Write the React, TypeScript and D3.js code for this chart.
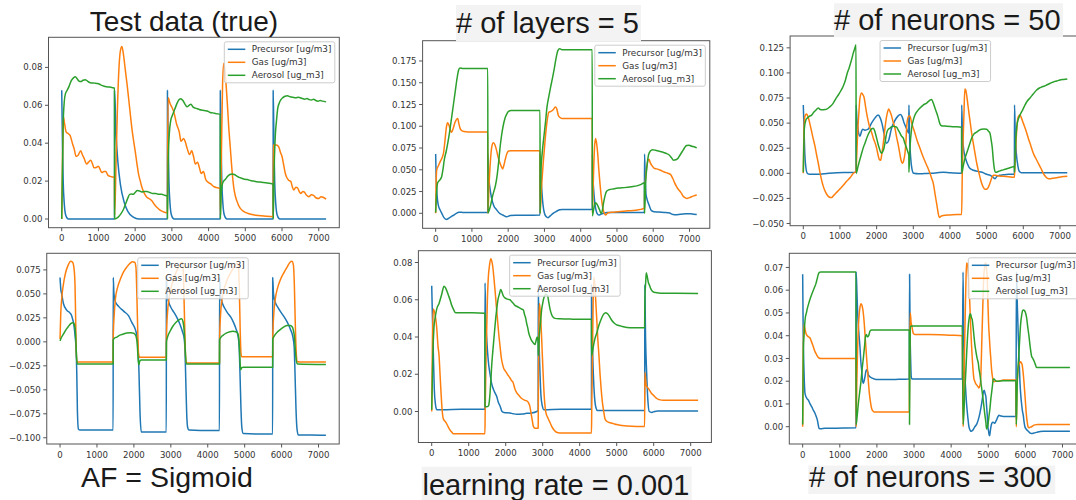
import React from 'react';
import * as d3 from 'd3';

type Pt = [number, number];

// ---- shared labels / ticks ----
const seriesNames = ['Precursor [ug/m3]', 'Gas [ug/m3]', 'Aerosol [ug_m3]'];
const seriesColors = ['#1f77b4', '#ff7f0e', '#2ca02c'];
const timeTicks = [0, 1000, 2000, 3000, 4000, 5000, 6000, 7000];
const timeExtent = [0, 7200];

// ---- Test data (true) ----
const testPrecursor: Pt[] = [[0,0.068],[20,0.04],[40,0.02],[70,0.008],[110,0.002],[180,0],[1438,0],[1440,0.068],[1480,0.045],[1530,0.03],[1600,0.018],[1700,0.009],[1800,0.004],[1950,0.001],[2100,0],[2878,0],[2880,0.068],[2900,0.04],[2920,0.02],[2950,0.008],[2990,0.002],[3060,0],[4318,0],[4320,0.068],[4340,0.04],[4360,0.02],[4390,0.008],[4430,0.002],[4500,0],[5758,0],[5760,0.068],[5780,0.04],[5800,0.02],[5830,0.008],[5870,0.002],[5940,0],[7200,0]];
const testGas: Pt[] = [[0,0],[20,0.03],[45,0.054],[80,0.05],[120,0.046],[180,0.045],[230,0.044],[290,0.04],[340,0.037],[390,0.033],[440,0.0335],[520,0.036],[560,0.034],[610,0.032],[680,0.029],[730,0.03],[790,0.031],[840,0.029],[880,0.027],[940,0.0272],[1000,0.0278],[1050,0.026],[1090,0.0245],[1150,0.025],[1200,0.025],[1260,0.023],[1320,0.0225],[1380,0.0222],[1436,0.022],[1442,0.002],[1480,0.03],[1520,0.06],[1560,0.08],[1600,0.089],[1640,0.091],[1680,0.087],[1730,0.079],[1780,0.071],[1820,0.064],[1870,0.055],[1910,0.048],[1960,0.041],[2000,0.036],[2050,0.029],[2090,0.024],[2140,0.02],[2180,0.017],[2250,0.0135],[2320,0.0115],[2400,0.0105],[2460,0.0095],[2530,0.0075],[2590,0.0062],[2660,0.005],[2730,0.0042],[2800,0.0036],[2878,0.0033],[2882,0.03],[2900,0.064],[2950,0.061],[3000,0.059],[3060,0.056],[3130,0.05],[3200,0.046],[3250,0.041],[3320,0.0425],[3360,0.041],[3420,0.037],[3480,0.034],[3540,0.036],[3590,0.033],[3640,0.029],[3700,0.03],[3750,0.027],[3800,0.024],[3860,0.025],[3920,0.021],[3980,0.0195],[4060,0.0185],[4150,0.017],[4250,0.0165],[4318,0.016],[4322,0.002],[4350,0.035],[4380,0.07],[4410,0.082],[4440,0.08],[4480,0.07],[4520,0.058],[4550,0.048],[4590,0.038],[4620,0.03],[4660,0.021],[4690,0.016],[4730,0.012],[4780,0.009],[4850,0.006],[4920,0.0045],[5000,0.0035],[5100,0.0028],[5280,0.002],[5500,0.0016],[5758,0.0012],[5762,0.039],[5850,0.039],[5910,0.038],[5960,0.035],[6000,0.033],[6050,0.028],[6090,0.024],[6140,0.0215],[6180,0.0205],[6240,0.0198],[6280,0.017],[6320,0.0153],[6380,0.0168],[6420,0.0165],[6470,0.0145],[6510,0.0135],[6570,0.0145],[6610,0.0142],[6670,0.0125],[6730,0.0118],[6800,0.0128],[6860,0.0125],[6920,0.0112],[7000,0.0108],[7060,0.0118],[7120,0.0115],[7200,0.0105]];
const testAerosol: Pt[] = [[0,0],[15,0.02],[40,0.05],[70,0.062],[100,0.066],[150,0.068],[200,0.07],[260,0.073],[320,0.0745],[370,0.075],[420,0.074],[470,0.0728],[520,0.0725],[580,0.0732],[640,0.0735],[700,0.0728],[760,0.072],[820,0.0718],[900,0.0717],[980,0.0715],[1060,0.0708],[1140,0.0702],[1220,0.0698],[1300,0.0696],[1380,0.0693],[1438,0.069],[1441,0],[1500,0.0005],[1560,0.0015],[1620,0.003],[1680,0.005],[1740,0.008],[1800,0.011],[1850,0.013],[1900,0.0132],[1950,0.013],[2000,0.014],[2060,0.015],[2120,0.0148],[2180,0.0143],[2240,0.0145],[2320,0.0145],[2400,0.014],[2480,0.0135],[2560,0.0135],[2640,0.013],[2720,0.013],[2800,0.0125],[2878,0.012],[2881,0],[2900,0.03],[2930,0.045],[2970,0.052],[3020,0.055],[3080,0.058],[3140,0.061],[3200,0.063],[3240,0.0635],[3300,0.0625],[3360,0.0605],[3410,0.0592],[3470,0.06],[3520,0.0605],[3580,0.059],[3640,0.0585],[3720,0.058],[3800,0.0575],[3880,0.0572],[3960,0.057],[4040,0.0562],[4120,0.056],[4200,0.0556],[4318,0.0553],[4321,0],[4340,0.012],[4370,0.018],[4410,0.02],[4460,0.021],[4520,0.0225],[4580,0.0235],[4640,0.0238],[4700,0.0235],[4760,0.0228],[4830,0.022],[4900,0.0215],[4980,0.021],[5060,0.0208],[5140,0.0203],[5220,0.02],[5300,0.0197],[5400,0.0195],[5500,0.0192],[5600,0.019],[5700,0.0187],[5758,0.0185],[5761,0],[5790,0.03],[5820,0.045],[5850,0.052],[5880,0.058],[5920,0.061],[5970,0.063],[6020,0.064],[6080,0.0648],[6150,0.065],[6220,0.0645],[6300,0.0642],[6380,0.064],[6440,0.0642],[6500,0.064],[6560,0.0635],[6620,0.0632],[6680,0.0636],[6740,0.063],[6800,0.0628],[6860,0.0632],[6920,0.0625],[6980,0.0622],[7040,0.0625],[7100,0.0622],[7200,0.0618]];
const testYTicks = [0, 0.02, 0.04, 0.06, 0.08];

// ---- # of layers = 5 ----
const layersPrecursor: Pt[] = [[0,0.068],[15,0.04],[40,0.02],[70,0.01],[120,0.004],[170,0],[230,-0.005],[290,-0.007],[350,-0.006],[420,-0.004],[500,-0.002],[570,0],[640,0.0012],[750,0.001],[900,0.0008],[1100,0.0008],[1300,0.0008],[1438,0.0008],[1440,0.068],[1460,0.045],[1500,0.028],[1540,0.018],[1600,0.009],[1680,0.004],[1760,0],[1850,-0.002],[1960,-0.004],[2060,-0.0025],[2200,-0.0022],[2500,-0.0022],[2878,-0.002],[2880,0.068],[2900,0.045],[2930,0.025],[2960,0.01],[3000,0],[3050,-0.004],[3100,-0.005],[3160,-0.003],[3240,0],[3320,0.002],[3420,0.004],[3500,0.0045],[3800,0.0045],[4318,0.0045],[4320,0.068],[4340,0.04],[4370,0.02],[4410,0.006],[4450,0],[4500,-0.002],[4560,-0.001],[4640,0],[4720,0.001],[5000,0.001],[5400,0.001],[5758,0.001],[5760,0.068],[5780,0.04],[5800,0.022],[5830,0.016],[5880,0.01],[5950,0.003],[6020,0.0018],[6150,0.0015],[6300,0.001],[6450,0.0003],[6550,-0.0015],[6620,-0.0018],[6750,-0.001],[6900,-0.0005],[7020,-0.0004],[7120,-0.001],[7200,-0.0015]];
const layersGas: Pt[] = [[0,0],[10,0.03],[30,0.05],[80,0.055],[130,0.06],[180,0.064],[220,0.07],[260,0.085],[300,0.1],[330,0.104],[370,0.101],[410,0.095],[440,0.093],[480,0.097],[530,0.104],[580,0.108],[610,0.109],[640,0.103],[680,0.097],[720,0.095],[780,0.094],[900,0.0935],[1100,0.0935],[1300,0.0935],[1438,0.0935],[1441,0],[1470,0.03],[1510,0.06],[1550,0.077],[1590,0.081],[1630,0.079],[1670,0.074],[1720,0.065],[1770,0.058],[1820,0.053],[1850,0.051],[1880,0.055],[1920,0.062],[1960,0.068],[2010,0.0715],[2080,0.072],[2300,0.072],[2600,0.072],[2878,0.072],[2881,0],[2920,0.03],[2970,0.06],[3020,0.085],[3070,0.105],[3120,0.116],[3180,0.117],[3240,0.119],[3300,0.122],[3340,0.12],[3380,0.113],[3430,0.11],[3480,0.109],[3700,0.109],[4000,0.109],[4318,0.109],[4321,0],[4350,0.04],[4380,0.075],[4410,0.086],[4440,0.08],[4470,0.068],[4500,0.05],[4530,0.035],[4570,0.018],[4610,0.006],[4650,0],[4690,-0.002],[4730,0],[4800,0.001],[4900,0.0012],[5100,0.002],[5300,0.0028],[5500,0.0035],[5650,0.0045],[5758,0.006],[5761,0.02],[5800,0.045],[5840,0.058],[5880,0.062],[5920,0.058],[5960,0.055],[6020,0.052],[6100,0.051],[6200,0.0495],[6300,0.0475],[6400,0.046],[6480,0.0445],[6540,0.04],[6590,0.035],[6640,0.031],[6700,0.027],[6760,0.024],[6820,0.02],[6880,0.018],[6930,0.017],[7000,0.018],[7080,0.0195],[7150,0.0205],[7200,0.021]];
const layersAerosol: Pt[] = [[0,0.001],[20,0.02],[55,0.035],[110,0.038],[165,0.042],[200,0.05],[240,0.062],[290,0.071],[340,0.082],[390,0.095],[440,0.11],[490,0.125],[540,0.14],[590,0.155],[630,0.164],[670,0.167],[750,0.1665],[900,0.1665],[1100,0.1665],[1300,0.1665],[1438,0.1665],[1441,0],[1480,0.004],[1520,0.01],[1560,0.018],[1610,0.026],[1650,0.032],[1700,0.045],[1740,0.06],[1780,0.077],[1820,0.09],[1860,0.1],[1910,0.109],[1960,0.114],[2010,0.117],[2080,0.118],[2300,0.118],[2600,0.118],[2878,0.118],[2881,0],[2900,0.045],[2940,0.07],[2990,0.09],[3030,0.105],[3070,0.122],[3120,0.134],[3170,0.145],[3220,0.155],[3270,0.166],[3320,0.178],[3370,0.187],[3420,0.189],[3480,0.188],[3700,0.188],[4000,0.188],[4318,0.188],[4321,-0.003],[4360,0.005],[4400,0.012],[4440,0.011],[4480,0.008],[4520,0.004],[4560,0],[4590,0.002],[4630,0.012],[4670,0.02],[4710,0.025],[4780,0.027],[4900,0.028],[5050,0.029],[5200,0.0295],[5400,0.0305],[5550,0.0315],[5650,0.033],[5758,0.035],[5761,0],[5790,0.035],[5830,0.055],[5870,0.067],[5920,0.0715],[5980,0.073],[6060,0.0725],[6150,0.0715],[6250,0.0705],[6350,0.069],[6440,0.067],[6500,0.064],[6560,0.061],[6620,0.0615],[6680,0.063],[6740,0.067],[6800,0.071],[6860,0.075],[6920,0.078],[6990,0.0783],[7060,0.077],[7130,0.0765],[7200,0.0752]];
const layersYTicks = [0, 0.025, 0.05, 0.075, 0.1, 0.125, 0.15, 0.175];

// ---- # of neurons = 50 ----
const n50Precursor: Pt[] = [[0,0.068],[15,0.05],[40,0.02],[70,0.006],[110,0],[180,-0.001],[360,-0.001],[700,0],[1100,0.0008],[1438,0.001],[1440,0.068],[1460,0.055],[1500,0.042],[1545,0.037],[1590,0.042],[1620,0.044],[1680,0.043],[1770,0.044],[1860,0.05],[1950,0.055],[2040,0.058],[2100,0.055],[2150,0.049],[2200,0.04],[2270,0.03],[2330,0.033],[2400,0.044],[2490,0.052],[2580,0.057],[2650,0.0585],[2700,0.056],[2750,0.05],[2810,0.045],[2878,0.04],[2880,0.068],[2900,0.035],[2930,0.015],[2960,0.005],[3010,0],[3150,-0.0005],[3300,-0.0003],[3500,0],[3700,0.0008],[3820,0.001],[4000,0.0005],[4318,0],[4320,0.068],[4340,0.04],[4370,0.025],[4410,0.017],[4470,0.01],[4540,0.005],[4640,0.003],[4750,0.002],[4880,0.001],[5000,-0.001],[5100,-0.002],[5180,-0.004],[5230,-0.0055],[5280,-0.003],[5350,-0.002],[5450,-0.0015],[5600,-0.001],[5758,-0.001],[5760,0.068],[5780,0.04],[5810,0.02],[5850,0.008],[5890,0.002],[5950,0.0005],[6100,0.0005],[6500,0.0005],[7000,0.0005],[7200,0.0005]];
const n50Gas: Pt[] = [[0,0],[15,0.04],[45,0.057],[91,0.059],[140,0.055],[200,0.046],[260,0.036],[318,0.027],[370,0.017],[409,0.01],[470,-0.002],[545,-0.013],[610,-0.019],[682,-0.023],[740,-0.024],[773,-0.024],[830,-0.022],[909,-0.019],[1000,-0.0155],[1091,-0.012],[1182,-0.008],[1273,-0.0045],[1364,0],[1436,0.002],[1460,0.02],[1482,0.04],[1515,0.06],[1545,0.075],[1591,0.08],[1630,0.078],[1655,0.076],[1700,0.066],[1727,0.06],[1770,0.052],[1818,0.045],[1870,0.04],[1909,0.035],[1960,0.03],[2000,0.025],[2040,0.018],[2070,0.014],[2109,0.013],[2140,0.019],[2164,0.025],[2200,0.036],[2227,0.045],[2260,0.054],[2291,0.06],[2330,0.064],[2370,0.061],[2409,0.057],[2450,0.051],[2500,0.045],[2545,0.036],[2591,0.028],[2630,0.02],[2660,0.014],[2709,0.01],[2740,0.013],[2773,0.02],[2800,0.032],[2818,0.045],[2850,0.055],[2878,0.057],[2909,0.057],[2955,0.05],[3000,0.045],[3045,0.04],[3110,0.032],[3182,0.025],[3250,0.018],[3318,0.012],[3390,0.006],[3455,0],[3500,-0.005],[3545,-0.01],[3590,-0.02],[3636,-0.03],[3680,-0.04],[3709,-0.044],[3750,-0.043],[3818,-0.042],[4000,-0.0415],[4200,-0.041],[4318,-0.041],[4336,0],[4360,0.035],[4382,0.06],[4405,0.084],[4430,0.083],[4455,0.078],[4490,0.068],[4518,0.06],[4555,0.05],[4591,0.04],[4640,0.029],[4682,0.02],[4730,0.01],[4773,0.003],[4820,-0.004],[4864,-0.01],[4910,-0.014],[4955,-0.016],[5000,-0.0158],[5045,-0.014],[5090,-0.01],[5136,-0.005],[5182,-0.002],[5230,-0.002],[5300,-0.0025],[5450,-0.003],[5600,-0.0035],[5758,-0.004],[5775,0.01],[5800,0.03],[5830,0.048],[5860,0.056],[5909,0.058],[5950,0.055],[6000,0.05],[6070,0.043],[6136,0.035],[6200,0.028],[6273,0.02],[6340,0.015],[6409,0.01],[6480,0.005],[6545,0],[6600,-0.003],[6660,-0.005],[6727,-0.0055],[6800,-0.005],[6909,-0.0045],[7050,-0.0035],[7200,-0.003]];
const n50Aerosol: Pt[] = [[0,0.001],[10,0.02],[30,0.045],[70,0.053],[109,0.055],[170,0.057],[227,0.058],[290,0.061],[345,0.063],[409,0.065],[460,0.0635],[520,0.0632],[590,0.0635],[640,0.064],[682,0.065],[750,0.067],[818,0.07],[880,0.074],[955,0.078],[1020,0.082],[1091,0.087],[1150,0.093],[1200,0.1],[1250,0.105],[1291,0.11],[1330,0.115],[1364,0.12],[1400,0.124],[1438,0.128],[1441,0],[1500,0.008],[1545,0.014],[1591,0.02],[1640,0.026],[1682,0.03],[1750,0.037],[1818,0.042],[1870,0.0445],[1909,0.045],[1950,0.042],[2000,0.035],[2040,0.029],[2073,0.025],[2110,0.021],[2136,0.02],[2170,0.022],[2200,0.025],[2240,0.033],[2273,0.04],[2320,0.044],[2364,0.045],[2410,0.0465],[2455,0.047],[2500,0.0465],[2545,0.046],[2590,0.043],[2636,0.04],[2680,0.037],[2727,0.035],[2770,0.03],[2818,0.025],[2864,0.02],[2878,0.018],[2881,0.001],[2909,0.025],[2955,0.045],[3000,0.053],[3045,0.058],[3110,0.062],[3182,0.065],[3270,0.068],[3364,0.07],[3440,0.0725],[3500,0.0735],[3545,0.07],[3591,0.065],[3640,0.06],[3682,0.055],[3720,0.05],[3745,0.048],[3800,0.0472],[3909,0.047],[4100,0.0465],[4318,0.046],[4321,0],[4360,0.007],[4409,0.015],[4455,0.02],[4500,0.025],[4545,0.03],[4591,0.035],[4650,0.039],[4727,0.041],[4800,0.043],[4864,0.044],[4930,0.0442],[5000,0.044],[5050,0.042],[5091,0.04],[5120,0.034],[5155,0.025],[5180,0.014],[5209,0.005],[5245,0.001],[5330,0.002],[5409,0.003],[5500,0.004],[5591,0.005],[5680,0.006],[5758,0.007],[5761,0.001],[5775,0.015],[5791,0.03],[5836,0.05],[5909,0.058],[5980,0.063],[6045,0.068],[6110,0.072],[6182,0.075],[6270,0.079],[6364,0.083],[6440,0.085],[6500,0.086],[6580,0.087],[6636,0.088],[6720,0.0895],[6818,0.091],[6910,0.092],[7000,0.093],[7100,0.0935],[7200,0.094]];
const n50YTicks = [-0.05, -0.025, 0, 0.025, 0.05, 0.075, 0.1, 0.125];

// ---- AF = Sigmoid ----
const sigmoidPrecursor: Pt[] = [[0,0.067],[20,0.055],[45,0.05],[91,0.04],[181,0.033],[272,0.03],[317,0.027],[380,0.016],[408,0.006],[435,-0.008],[453,-0.032],[471,-0.073],[498,-0.091],[540,-0.092],[800,-0.092],[1100,-0.092],[1438,-0.092],[1440,0.067],[1460,0.05],[1495,0.042],[1585,0.037],[1721,0.032],[1857,0.027],[1947,0.02],[2038,0.013],[2083,0.006],[2111,-0.005],[2138,-0.032],[2165,-0.073],[2201,-0.094],[2500,-0.094],[2878,-0.094],[2880,0.067],[2900,0.05],[2940,0.042],[3000,0.036],[3080,0.031],[3170,0.025],[3250,0.018],[3320,0.01],[3360,0.004],[3385,-0.01],[3405,-0.04],[3430,-0.075],[3455,-0.089],[3490,-0.092],[3800,-0.0925],[4318,-0.0925],[4320,0.067],[4340,0.05],[4390,0.041],[4460,0.035],[4540,0.03],[4620,0.026],[4700,0.02],[4770,0.013],[4820,0.006],[4850,-0.005],[4875,-0.035],[4900,-0.07],[4925,-0.09],[4960,-0.0955],[5300,-0.096],[5758,-0.096],[5760,0.067],[5780,0.05],[5830,0.041],[5900,0.036],[5980,0.031],[6070,0.026],[6160,0.02],[6240,0.013],[6300,0.006],[6340,-0.005],[6365,-0.035],[6390,-0.07],[6415,-0.09],[6450,-0.097],[6800,-0.097],[7200,-0.0975]];
const sigmoidGas: Pt[] = [[0,0.003],[20,0.03],[45,0.045],[91,0.06],[150,0.072],[220,0.08],[290,0.084],[340,0.083],[380,0.076],[405,0.06],[425,0.02],[440,-0.01],[460,-0.021],[520,-0.021],[900,-0.021],[1438,-0.021],[1441,0.005],[1470,0.03],[1500,0.045],[1560,0.057],[1640,0.066],[1720,0.073],[1810,0.078],[1900,0.082],[1960,0.0835],[2020,0.083],[2055,0.078],[2080,0.05],[2105,0.01],[2125,-0.012],[2150,-0.016],[2300,-0.016],[2878,-0.016],[2881,0.005],[2910,0.03],[2950,0.045],[3010,0.057],[3080,0.066],[3160,0.074],[3240,0.08],[3300,0.083],[3330,0.08],[3355,0.05],[3380,0.01],[3400,-0.015],[3420,-0.022],[3600,-0.022],[4318,-0.022],[4321,0.003],[4350,0.03],[4390,0.045],[4450,0.056],[4530,0.065],[4620,0.072],[4710,0.078],[4790,0.082],[4830,0.08],[4855,0.055],[4880,0.01],[4900,-0.012],[4920,-0.0155],[5200,-0.0155],[5758,-0.0155],[5761,0.005],[5790,0.03],[5830,0.045],[5890,0.056],[5970,0.065],[6060,0.072],[6150,0.078],[6230,0.083],[6280,0.084],[6320,0.08],[6345,0.06],[6370,0.02],[6395,-0.01],[6420,-0.0205],[6500,-0.021],[7200,-0.021]];
const sigmoidAerosol: Pt[] = [[0,0.001],[30,0.004],[91,0.008],[150,0.012],[226,0.016],[290,0.019],[340,0.02],[370,0.0195],[400,0.016],[420,0.008],[435,-0.005],[450,-0.018],[470,-0.023],[520,-0.023],[1000,-0.023],[1438,-0.023],[1441,0.002],[1480,0.004],[1540,0.005],[1620,0.007],[1700,0.008],[1810,0.0093],[1900,0.0095],[1970,0.0093],[2030,0.008],[2070,0.004],[2095,-0.005],[2115,-0.018],[2135,-0.024],[2160,-0.02],[2200,-0.019],[2500,-0.019],[2878,-0.019],[2881,0],[2920,0.006],[2980,0.011],[3050,0.016],[3130,0.02],[3220,0.023],[3290,0.024],[3330,0.021],[3360,0.012],[3380,0],[3400,-0.015],[3420,-0.023],[3600,-0.023],[4318,-0.023],[4321,0.002],[4360,0.005],[4420,0.007],[4500,0.009],[4600,0.0105],[4680,0.011],[4760,0.0105],[4810,0.009],[4840,0.004],[4860,-0.008],[4880,-0.024],[4895,-0.029],[4920,-0.027],[4960,-0.0265],[5300,-0.0265],[5758,-0.0265],[5761,0.003],[5800,0.006],[5880,0.01],[5970,0.013],[6060,0.0155],[6150,0.017],[6230,0.017],[6280,0.016],[6320,0.012],[6350,0.004],[6375,-0.01],[6400,-0.02],[6430,-0.023],[7200,-0.0235]];
const sigmoidYTicks = [-0.1, -0.075, -0.05, -0.025, 0, 0.025, 0.05, 0.075];

// ---- learning rate = 0.001 ----
const lrPrecursor: Pt[] = [[0,0.0675],[20,0.05],[45,0.03],[70,0.012],[100,0.004],[135,0.001],[300,0.001],[800,0.0012],[1438,0.0012],[1440,0.069],[1460,0.05],[1490,0.038],[1530,0.027],[1577,0.02],[1620,0.015],[1667,0.012],[1710,0.01],[1757,0.008],[1800,0.005],[1847,0.003],[1900,0],[1950,-0.0005],[2117,-0.0008],[2200,-0.0012],[2297,-0.0015],[2450,-0.0013],[2568,-0.001],[2700,-0.0008],[2838,0],[2878,0.0005],[2880,0.068],[2900,0.04],[2928,0.02],[2955,0.008],[2990,0.003],[3030,0.001],[3500,0.0012],[4000,0.0012],[4318,0.0012],[4320,0.068],[4340,0.04],[4369,0.02],[4400,0.008],[4440,0.002],[4480,0.0005],[5000,0.0005],[5758,0.0005],[5760,0.068],[5780,0.04],[5811,0.02],[5840,0.007],[5880,0],[5946,-0.0005],[6020,0],[6100,0.0003],[6500,0.0003],[7200,0.0003]];
const lrGas: Pt[] = [[0,0],[20,0.04],[45,0.055],[90,0.052],[120,0.048],[135,0.045],[170,0.035],[198,0.03],[225,0.02],[252,0.01],[285,0],[315,-0.004],[350,-0.005],[387,-0.006],[440,-0.008],[495,-0.01],[540,-0.011],[586,-0.012],[700,-0.012],[1000,-0.012],[1300,-0.012],[1438,-0.012],[1445,0],[1470,0.03],[1505,0.06],[1530,0.072],[1559,0.078],[1595,0.082],[1620,0.081],[1649,0.078],[1680,0.072],[1712,0.065],[1745,0.057],[1775,0.05],[1810,0.042],[1847,0.035],[1880,0.029],[1919,0.025],[1950,0.023],[1982,0.022],[2045,0.02],[2117,0.018],[2160,0.0165],[2189,0.016],[2252,0.012],[2300,0.01],[2342,0.009],[2432,0.007],[2523,0.006],[2586,0.0055],[2620,0.0045],[2650,0.003],[2694,-0.002],[2720,-0.005],[2748,-0.008],[2790,-0.009],[2860,-0.009],[2878,-0.0088],[2885,0.02],[2900,0.05],[2915,0.058],[2946,0.05],[2991,0.03],[3036,0.01],[3081,0],[3153,-0.004],[3200,-0.006],[3243,-0.008],[3300,-0.0098],[3360,-0.011],[3468,-0.0115],[3800,-0.0115],[4318,-0.0115],[4325,0],[4345,0.03],[4365,0.06],[4387,0.072],[4410,0.068],[4432,0.06],[4460,0.05],[4486,0.04],[4520,0.03],[4550,0.02],[4580,0.012],[4613,0.005],[4650,0],[4685,-0.004],[4750,-0.0055],[4820,-0.006],[4910,-0.0065],[5000,-0.007],[5140,-0.0075],[5270,-0.0078],[5541,-0.008],[5755,-0.008],[5762,0.021],[5800,0.014],[5850,0.0125],[5901,0.011],[5950,0.0095],[5991,0.0088],[6040,0.0078],[6081,0.007],[6150,0.0064],[6261,0.006],[6500,0.006],[7200,0.006]];
const lrAerosol: Pt[] = [[0,0.001],[15,0.015],[30,0.03],[60,0.045],[90,0.05],[135,0.055],[198,0.058],[270,0.063],[333,0.0672],[370,0.0665],[405,0.065],[450,0.0625],[495,0.06],[540,0.057],[586,0.055],[620,0.0535],[657,0.053],[800,0.053],[1100,0.053],[1438,0.0528],[1441,0.003],[1480,0.0025],[1532,0.003],[1560,0.006],[1577,0.01],[1600,0.017],[1622,0.025],[1650,0.032],[1685,0.04],[1720,0.048],[1757,0.055],[1790,0.06],[1829,0.063],[1865,0.0655],[1900,0.064],[1937,0.062],[1980,0.061],[2027,0.0605],[2070,0.0602],[2117,0.06],[2160,0.059],[2207,0.058],[2250,0.057],[2297,0.0565],[2340,0.056],[2387,0.0555],[2430,0.055],[2477,0.0545],[2510,0.052],[2541,0.05],[2570,0.047],[2595,0.045],[2625,0.042],[2658,0.04],[2690,0.0385],[2721,0.0375],[2760,0.0365],[2793,0.036],[2820,0.038],[2850,0.04],[2878,0.037],[2881,0.03],[2905,0.04],[2928,0.045],[2950,0.05],[2973,0.055],[3000,0.058],[3018,0.06],[3050,0.062],[3081,0.063],[3110,0.0628],[3135,0.062],[3170,0.058],[3198,0.055],[3243,0.052],[3290,0.0505],[3333,0.05],[3468,0.0498],[3800,0.0496],[4318,0.0495],[4321,0.03],[4345,0.032],[4369,0.035],[4410,0.039],[4459,0.042],[4500,0.045],[4550,0.048],[4600,0.0505],[4640,0.052],[4680,0.0528],[4703,0.053],[4740,0.0527],[4775,0.052],[4820,0.0505],[4865,0.049],[4930,0.0475],[5000,0.0465],[5090,0.046],[5180,0.0455],[5360,0.045],[5550,0.045],[5755,0.045],[5762,0.06],[5785,0.07],[5800,0.0745],[5830,0.072],[5860,0.069],[5883,0.068],[5920,0.066],[5946,0.065],[6010,0.064],[6081,0.0638],[6261,0.0635],[6600,0.0635],[7200,0.0634]];
const lrYTicks = [0, 0.02, 0.04, 0.06, 0.08];

// ---- # of neurons = 300 ----
const n300Precursor: Pt[] = [[0,0.067],[15,0.04],[35,0.025],[63,0.0147],[110,0.0125],[153,0.0117],[200,0.01],[242,0.0088],[290,0.0072],[332,0.0059],[365,0.0045],[395,0.003],[420,0.0008],[440,-0.0007],[480,-0.0009],[600,-0.0007],[1100,-0.0006],[1438,-0.0005],[1440,0.068],[1460,0.06],[1481,0.05],[1510,0.042],[1544,0.035],[1570,0.028],[1589,0.025],[1615,0.02],[1634,0.019],[1660,0.0205],[1679,0.022],[1705,0.0245],[1724,0.025],[1745,0.0245],[1768,0.023],[1810,0.022],[1858,0.0215],[1930,0.021],[1993,0.0207],[2172,0.0207],[2500,0.0208],[2872,0.021],[2880,0.067],[2895,0.04],[2908,0.03],[2925,0.022],[2944,0.021],[3300,0.021],[3800,0.021],[4300,0.021],[4320,0.068],[4335,0.045],[4354,0.03],[4385,0.018],[4416,0.01],[4450,0.004],[4479,0],[4510,-0.0015],[4533,-0.002],[4560,-0.0018],[4596,-0.0012],[4640,0],[4686,0.001],[4730,0.003],[4775,0.006],[4810,0.009],[4838,0.012],[4865,0.015],[4892,0.016],[4915,0.0145],[4937,0.013],[4955,0.009],[4973,0.005],[4990,0],[5009,-0.002],[5022,-0.0035],[5036,-0.004],[5054,-0.002],[5072,0],[5095,0.0015],[5117,0.002],[5150,0.0018],[5180,0.0015],[5200,0.0022],[5224,0.003],[5255,0.0042],[5287,0.005],[5340,0.0047],[5404,0.0045],[5600,0.0045],[5745,0.0045],[5760,0.068],[5780,0.055],[5808,0.04],[5830,0.03],[5853,0.02],[5875,0.014],[5898,0.01],[5920,0.007],[5943,0.005],[5965,0.002],[5987,0],[6030,-0.0012],[6077,-0.002],[6120,-0.0027],[6167,-0.003],[6230,-0.0028],[6302,-0.0025],[6400,-0.0021],[6481,-0.002],[6800,-0.002],[7200,-0.002]];
const n300Gas: Pt[] = [[0,0],[12,0.03],[36,0.045],[55,0.0435],[90,0.041],[126,0.04],[160,0.0395],[197,0.039],[235,0.0375],[269,0.036],[300,0.0345],[332,0.033],[365,0.032],[395,0.031],[440,0.0302],[485,0.03],[800,0.03],[1100,0.03],[1436,0.03],[1441,0],[1460,0.02],[1481,0.035],[1505,0.045],[1526,0.05],[1550,0.053],[1571,0.054],[1594,0.0535],[1616,0.052],[1640,0.049],[1661,0.045],[1690,0.038],[1724,0.03],[1760,0.022],[1795,0.015],[1825,0.011],[1858,0.008],[1890,0.007],[1921,0.0065],[2100,0.0065],[2500,0.0065],[2872,0.0065],[2884,0.035],[2900,0.05],[2920,0.046],[2944,0.044],[2965,0.042],[2980,0.041],[3020,0.0405],[3400,0.0405],[4000,0.0402],[4300,0.04],[4322,0],[4345,0.02],[4362,0.035],[4380,0.05],[4400,0.065],[4416,0.072],[4440,0.0715],[4452,0.07],[4470,0.066],[4488,0.06],[4505,0.053],[4524,0.045],[4545,0.037],[4569,0.03],[4590,0.025],[4614,0.021],[4636,0.02],[4659,0.019],[4682,0.0185],[4704,0.018],[4727,0.0175],[4749,0.017],[4772,0.018],[4794,0.02],[4810,0.028],[4830,0.04],[4848,0.05],[4865,0.06],[4883,0.067],[4901,0.07],[4920,0.072],[4937,0.072],[4955,0.069],[4973,0.065],[4990,0.055],[5009,0.045],[5027,0.04],[5045,0.035],[5068,0.03],[5090,0.025],[5112,0.022],[5135,0.02],[5160,0.0198],[5198,0.02],[5269,0.02],[5404,0.0205],[5600,0.0205],[5745,0.0205],[5755,0],[5770,0.015],[5790,0.022],[5817,0.027],[5845,0.028],[5871,0.0285],[5895,0.028],[5916,0.027],[5938,0.024],[5960,0.02],[5983,0.015],[6005,0.01],[6028,0.005],[6050,0.002],[6072,0],[6095,-0.0005],[6130,-0.0002],[6167,0],[6210,0.0005],[6257,0.0008],[6330,0.001],[6391,0.001],[7200,0.001]];
const n300Aerosol: Pt[] = [[0,0.001],[10,0.02],[20,0.035],[36,0.04],[55,0.045],[72,0.048],[100,0.05],[126,0.052],[160,0.054],[197,0.056],[240,0.058],[287,0.06],[325,0.0615],[359,0.063],[390,0.065],[422,0.067],[450,0.0678],[485,0.068],[800,0.068],[1100,0.068],[1436,0.068],[1441,0.001],[1470,0.005],[1499,0.01],[1535,0.015],[1571,0.02],[1600,0.025],[1634,0.03],[1665,0.035],[1697,0.04],[1720,0.0405],[1741,0.0395],[1760,0.0395],[1777,0.04],[1795,0.041],[1813,0.042],[1858,0.0425],[2200,0.0425],[2600,0.0425],[2872,0.0425],[2878,0.001],[2890,0.03],[2905,0.044],[2944,0.0443],[3400,0.0443],[4000,0.0443],[4300,0.0443],[4322,0.001],[4340,0.005],[4354,0.01],[4376,0.018],[4398,0.025],[4420,0.033],[4443,0.04],[4465,0.045],[4488,0.048],[4510,0.0495],[4524,0.0495],[4545,0.048],[4569,0.047],[4590,0.044],[4614,0.04],[4640,0.036],[4668,0.033],[4700,0.03],[4731,0.028],[4753,0.025],[4775,0.023],[4805,0.019],[4838,0.015],[4875,0.01],[4910,0.005],[4935,0.002],[4955,-0.001],[4978,0],[5000,0.002],[5022,0.005],[5045,0.008],[5068,0.012],[5090,0.015],[5112,0.018],[5135,0.021],[5158,0.021],[5180,0.0205],[5224,0.02],[5400,0.0202],[5745,0.0202],[5755,0.001],[5770,0.01],[5781,0.02],[5800,0.026],[5817,0.03],[5845,0.038],[5871,0.045],[5900,0.049],[5925,0.051],[5950,0.0513],[5978,0.051],[6005,0.05],[6032,0.048],[6062,0.044],[6095,0.04],[6130,0.035],[6167,0.031],[6200,0.03],[6230,0.029],[6265,0.0275],[6302,0.026],[6391,0.026],[7200,0.026]];
const n300YTicks = [0, 0.01, 0.02, 0.03, 0.04, 0.05, 0.06, 0.07];

// Panel layout (pixel boxes of each axes) and the matplotlib-style y extents.
type Panel = {
  left: number; right: number; top: number; bottom: number;
  yDomain: [number, number]; yTicks: number[]; yFmt: string;
  legend: 'right' | 'center';
  series: Pt[][];
};

const padX = (timeExtent[1] - timeExtent[0]) * 0.05;

const panels: Panel[] = [
  { left: 48.5, right: 339.3, top: 37.3, bottom: 227.7, yDomain: [-0.00459, 0.09588], yTicks: testYTicks, yFmt: '.2f', legend: 'right', series: [testPrecursor, testGas, testAerosol] },
  { left: 422.6, right: 709.8, top: 40.7, bottom: 228.3, yDomain: [-0.01723, 0.1983], yTicks: layersYTicks, yFmt: '.3f', legend: 'right', series: [layersPrecursor, layersGas, layersAerosol] },
  { left: 790.1, right: 1080.5, top: 36, bottom: 225.7, yDomain: [-0.0522, 0.1368], yTicks: n50YTicks, yFmt: '.3f', legend: 'center', series: [n50Precursor, n50Gas, n50Aerosol] },
  { left: 46.75, right: 339.2, top: 253.3, bottom: 444, yDomain: [-0.1065, 0.0923], yTicks: sigmoidYTicks, yFmt: '.3f', legend: 'center', series: [sigmoidPrecursor, sigmoidGas, sigmoidAerosol] },
  { left: 418.4, right: 711.4, top: 250.7, bottom: 442.5, yDomain: [-0.01664, 0.08634], yTicks: lrYTicks, yFmt: '.2f', legend: 'center', series: [lrPrecursor, lrGas, lrAerosol] },
  { left: 789.3, right: 1083.3, top: 253.3, bottom: 444, yDomain: [-0.0076, 0.07622], yTicks: n300YTicks, yFmt: '.2f', legend: 'right', series: [n300Precursor, n300Gas, n300Aerosol] },
];

type Title = { text: string; x: number; y: number; anchor: 'start' | 'middle'; size: number; bg?: [number, number, number, number] };
const titles: Title[] = [
  { text: 'Test data (true)', x: 184, y: 30.5, anchor: 'middle', size: 28 },
  { text: '# of layers = 5', x: 456, y: 33, anchor: 'start', size: 29, bg: [456, 5, 185, 36.7] },
  { text: '# of neurons = 50', x: 834, y: 30, anchor: 'start', size: 29, bg: [834, 3.3, 229, 34] },
  { text: 'AF = Sigmoid', x: 81, y: 487, anchor: 'start', size: 28.5 },
  { text: 'learning rate = 0.001', x: 422.5, y: 495, anchor: 'start', size: 29, bg: [421.7, 466.7, 270, 34] },
  { text: '# of neurons = 300', x: 809, y: 487, anchor: 'start', size: 29, bg: [808.3, 465.5, 247, 28.5] },
];

const TICK_FONT = '"DejaVu Sans", sans-serif';
const AXIS_COLOR = '#555';

function Axes({ p }: { p: Panel }) {
  const x = d3.scaleLinear().domain([timeExtent[0] - padX, timeExtent[1] + padX]).range([p.left, p.right]);
  const y = d3.scaleLinear().domain(p.yDomain).range([p.bottom, p.top]);
  const line = d3.line<Pt>().x(d => x(d[0])).y(d => y(d[1])).curve(d3.curveMonotoneX);
  const fmt = d3.format(p.yFmt);
  const clipId = `clip-${Math.round(p.left)}-${Math.round(p.top)}`;

  const legW = 110.5, legH = 41, pad = 4.5;
  const legX = p.legend === 'right' ? p.right - pad - legW : (p.left + p.right) / 2 - legW / 2;
  const legY = p.top + pad;

  return (
    <g>
      <defs>
        <clipPath id={clipId}>
          <rect x={p.left} y={p.top} width={p.right - p.left} height={p.bottom - p.top} />
        </clipPath>
      </defs>
      <g clipPath={`url(#${clipId})`}>
        {p.series.map((s, i) => (
          <path key={i} d={line(s) || ''} fill="none" stroke={seriesColors[i]} strokeWidth={1.5} strokeLinejoin="round" />
        ))}
      </g>
      <rect x={p.left} y={p.top} width={p.right - p.left} height={p.bottom - p.top} fill="none" stroke={AXIS_COLOR} strokeWidth={1} />
      {timeTicks.map(t => (
        <g key={t}>
          <line x1={x(t)} x2={x(t)} y1={p.bottom} y2={p.bottom + 3.5} stroke={AXIS_COLOR} strokeWidth={1} />
          <text x={x(t)} y={p.bottom + 13.5} textAnchor="middle" fontFamily={TICK_FONT} fontSize={8.6} fill="#333">{t}</text>
        </g>
      ))}
      {p.yTicks.map(v => (
        <g key={v}>
          <line x1={p.left - 3.5} x2={p.left} y1={y(v)} y2={y(v)} stroke={AXIS_COLOR} strokeWidth={1} />
          <text x={p.left - 6} y={y(v) + 3.1} textAnchor="end" fontFamily={TICK_FONT} fontSize={8.6} fill="#333">{fmt(v)}</text>
        </g>
      ))}
      <g>
        <rect x={legX} y={legY} width={legW} height={legH} rx={2} fill="#fff" fillOpacity={0.8} stroke="#ccc" strokeWidth={1} />
        {seriesNames.map((n, i) => {
          const cy = legY + 7.5 + i * 13;
          return (
            <g key={n}>
              <line x1={legX + 3.5} x2={legX + 21} y1={cy} y2={cy} stroke={seriesColors[i]} strokeWidth={1.5} />
              <text x={legX + 27.5} y={cy + 3.1} fontFamily={TICK_FONT} fontSize={8.8} fill="#333">{n}</text>
            </g>
          );
        })}
      </g>
    </g>
  );
}

export default function App() {
  return (
    <svg width={1076} height={500} viewBox="0 0 1076 500" style={{ position: 'absolute', left: 0, top: 0, background: '#fff' }}>
      <rect x={0} y={0} width={1076} height={500} fill="#fff" />
      {panels.map((p, i) => <Axes key={i} p={p} />)}
      {titles.map(t => (
        <g key={t.text}>
          {t.bg && <rect x={t.bg[0]} y={t.bg[1]} width={t.bg[2]} height={t.bg[3]} fill="#f3f3f3" />}
          <text x={t.x} y={t.y} textAnchor={t.anchor} fontFamily='"Liberation Sans", Arial, sans-serif' fontSize={t.size} fill="#1a1a1a">{t.text}</text>
        </g>
      ))}
    </svg>
  );
}
